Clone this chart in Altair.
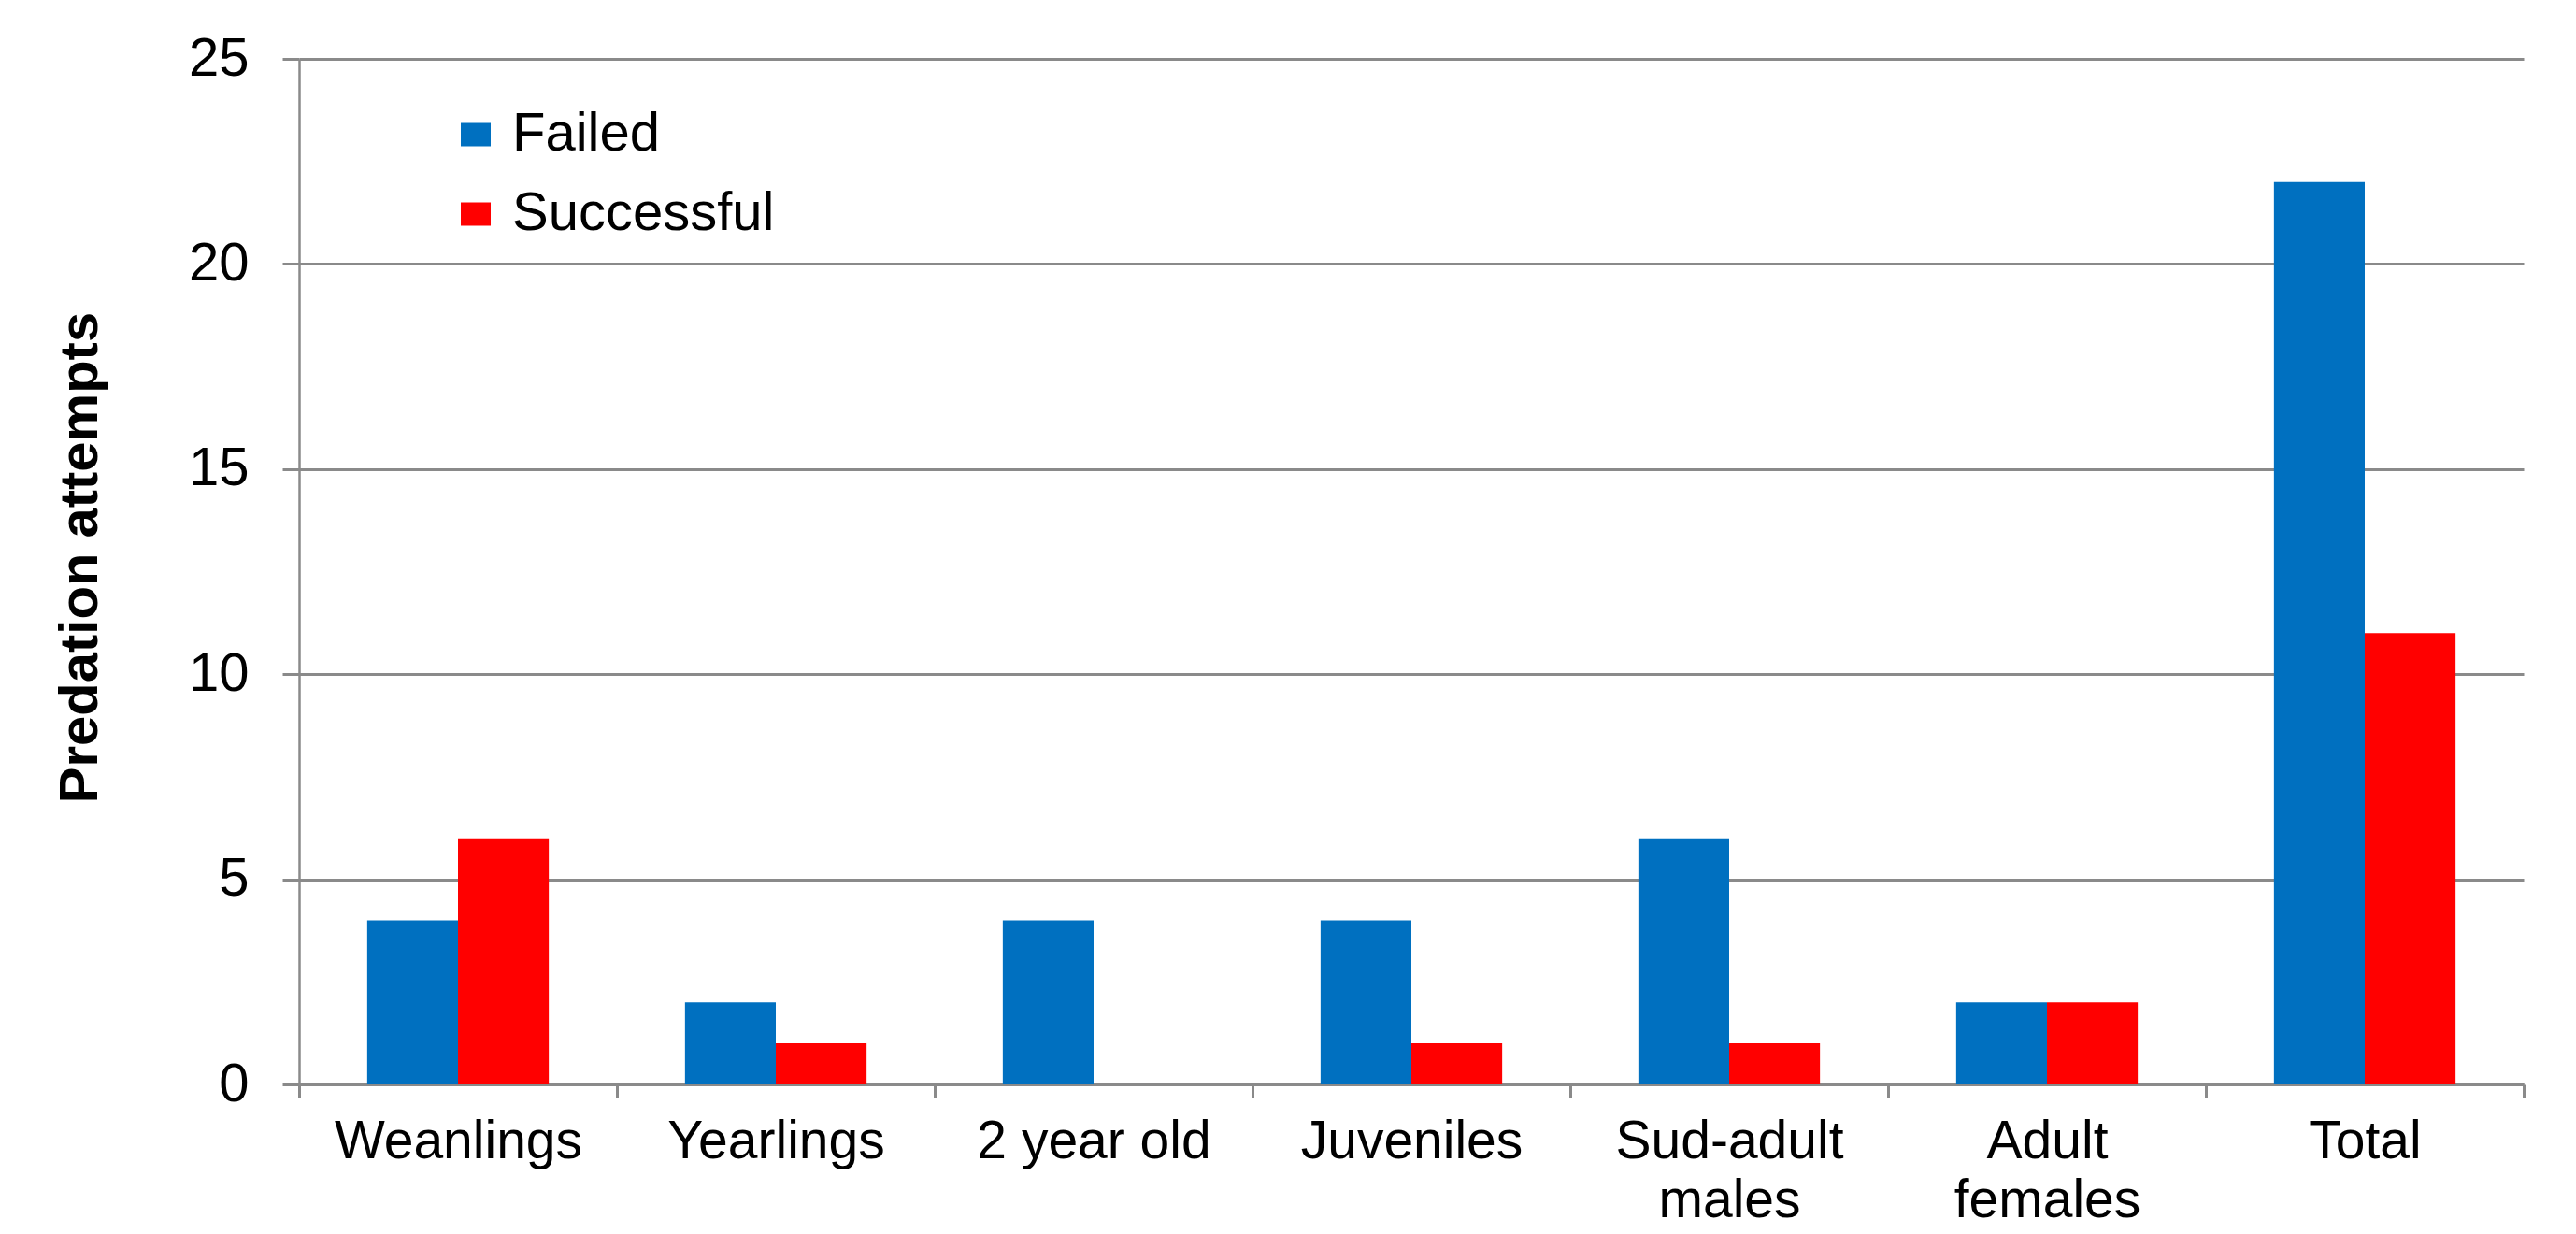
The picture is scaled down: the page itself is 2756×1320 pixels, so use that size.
import altair as alt
import pandas as pd

categories = ["Weanlings", "Yearlings", "2 year old", "Juveniles",
              "Sud-adult males", "Adult females", "Total"]
failed = [4, 2, 4, 4, 6, 2, 22]
successful = [6, 1, 0, 1, 1, 2, 11]
series = ["Failed", "Successful"]
colors = ["#0070C0", "#FF0000"]

rows = []
for c, f, s in zip(categories, failed, successful):
    rows.append({"category": c, "series": "Failed", "value": f})
    rows.append({"category": c, "series": "Successful", "value": s})
df = pd.DataFrame(rows)

FONT = "Liberation Sans"
GRID = "#8a8a8a"

label_expr = ("datum.label == 'Sud-adult males' ? ['Sud-adult', 'males'] : "
              "datum.label == 'Adult females' ? ['Adult', 'females'] : datum.label")

W, H = 2380, 1097

chart = alt.Chart(df).mark_bar().encode(
    x=alt.X("category:N", sort=categories,
            scale=alt.Scale(paddingInner=0, paddingOuter=0),
            axis=alt.Axis(title=None, labelAngle=0, tickBand="extent",
                          labelExpr=label_expr, labelFont=FONT, labelFontSize=57,
                          labelColor="black", labelLineHeight=63, labelPadding=19,
                          labelLimit=0,
                          domainColor=GRID, domainWidth=3, tickColor=GRID,
                          tickWidth=3, tickSize=14, grid=False)),
    xOffset=alt.XOffset("series:N", sort=series,
                        scale=alt.Scale(paddingInner=0, paddingOuter=0.75)),
    y=alt.Y("value:Q", scale=alt.Scale(domain=[0, 25]),
            axis=alt.Axis(title="Predation attempts", values=[0, 5, 10, 15, 20, 25],
                          titleFont=FONT, titleFontSize=58, titleFontWeight="bold",
                          titleColor="black", titleX=-217, titleY=533,
                          titleBaseline="alphabetic", titleAngle=270,
                          labelFont=FONT, labelFontSize=58, labelColor="black",
                          labelPadding=36, tickSize=18, tickColor=GRID, tickWidth=3,
                          domainColor=GRID, domainWidth=2.5,
                          grid=True, gridColor=GRID, gridWidth=3)),
    color=alt.Color("series:N", sort=series,
                    scale=alt.Scale(domain=series, range=colors),
                    legend=alt.Legend(title=None, orient="none", legendX=160, legendY=52,
                                      symbolType="M-1.28,-1H1.28V1H-1.28Z",
                                      symbolSize=625,
                                      symbolStrokeWidth=0, labelFont=FONT,
                                      labelFontSize=58, labelColor="black",
                                      labelOffset=10, rowPadding=27, padding=0,
                                      symbolOffset=0, labelLimit=0)),
).properties(
    width=W, height=H,
    autosize=alt.AutoSizeParams(type="none"),
    padding={"left": 312, "top": 55, "right": 48, "bottom": 152},
).configure_view(stroke=None)

chart.save("out.html", embed_options={"renderer": "svg", "actions": False})
